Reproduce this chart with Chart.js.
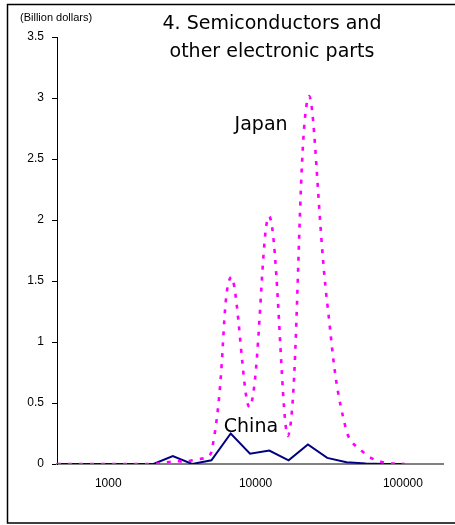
<!DOCTYPE html>
<html>
<head>
<meta charset="utf-8">
<script src="https://cdn.jsdelivr.net/npm/chart.js@4/dist/chart.umd.min.js"></script>
<style>
html,body{margin:0;padding:0;background:#fff;}
#wrap{position:relative;width:455px;height:525px;}
</style>
</head>
<body>
<div id="wrap"><canvas id="c" width="455" height="525"></canvas></div>
<script>
// Price bins (US dollars, log scale)
const binValues = [449, 607, 821, 1110, 1501, 2029, 2743, 3709, 5014, 6779, 9165, 12391, 16752, 22648, 30620, 41397, 55968, 75667, 102300];
// Billion dollars
const japanValues = [0, 0, 0, 0, 0, 0, 0.02, 0.03, 0.1, 1.53, 0.47, 2.03, 0.24, 3.0, 1.32, 0.27, 0.08, 0.01, 0];
const chinaValues = [0, 0, 0, 0, 0, 0, 0.065, 0, 0.03, 0.25, 0.085, 0.11, 0.03, 0.16, 0.05, 0.015, 0.005, 0, 0];
const xTickValues = [1000, 10000, 100000];
const yTickLabels = ['0', '0.5', '1', '1.5', '2', '2.5', '3', '3.5'];
const titleLines = ['4. Semiconductors and', 'other electronic parts'];
const unitLabel = '(Billion dollars)';
const seriesNames = ['Japan', 'China'];

const FONT = '"Liberation Sans", Arial, sans-serif';
const TFONT = '"DejaVu Sans", sans-serif';

const decorPlugin = {
  id: 'decor',
  afterDraw(chart) {
    const ctx = chart.ctx;
    const xs = chart.scales.x, ys = chart.scales.y;
    ctx.save();
    // outer frame
    ctx.strokeStyle = '#000';
    ctx.lineWidth = 1.5;
    ctx.beginPath();
    ctx.moveTo(460, 4.5); ctx.lineTo(7.5, 4.5); ctx.lineTo(7.5, 523); ctx.lineTo(460, 523);
    ctx.stroke();
    // unit label
    ctx.fillStyle = '#000';
    ctx.font = '11px ' + FONT;
    ctx.textAlign = 'left';
    ctx.textBaseline = 'middle';
    ctx.fillText(unitLabel, 20, 18);
    // title
    ctx.font = '19px ' + TFONT;
    ctx.textAlign = 'center';
    ctx.fillText(titleLines[0], 272, 24);
    ctx.fillText(titleLines[1], 272, 52);
    // series labels
    ctx.font = '19px ' + TFONT;
    ctx.fillText(seriesNames[0], xs.getPixelForValue(10900), ys.getPixelForValue(2.78));
    ctx.fillText(seriesNames[1], xs.getPixelForValue(9300), ys.getPixelForValue(0.3));
    ctx.restore();
  }
};

new Chart(document.getElementById('c'), {
  type: 'line',
  data: {
    datasets: [
      {
        label: seriesNames[0],
        data: binValues.map((x, i) => ({x: x, y: japanValues[i]})),
        borderColor: '#FF00FF',
        borderWidth: 2.6,
        borderDash: [4, 7],
        tension: 0.4,
        pointRadius: 0,
        fill: false
      },
      {
        label: seriesNames[1],
        data: binValues.map((x, i) => ({x: x, y: chinaValues[i]})),
        borderColor: '#000080',
        borderWidth: 2,
        tension: 0,
        pointRadius: 0,
        fill: false
      }
    ]
  },
  options: {
    responsive: false,
    animation: false,
    events: [],
    layout: {padding: {left: 0, top: 37, right: 12, bottom: 0}},
    plugins: {legend: {display: false}, tooltip: {enabled: false}, title: {display: false}},
    scales: {
      x: {
        type: 'logarithmic',
        min: 449,
        max: 187000,
        afterBuildTicks(scale) { scale.ticks = xTickValues.map(v => ({value: v})); },
        afterFit(scale) { scale.height = 61; },
        ticks: {
          callback: (v) => String(v),
          font: {family: FONT, size: 12},
          color: '#000',
          padding: 12,
          maxRotation: 0,
          autoSkip: false
        },
        grid: {display: false, drawTicks: false},
        border: {display: true, color: '#808080', width: 2}
      },
      y: {
        type: 'linear',
        min: 0,
        max: 3.5,
        afterBuildTicks(scale) { scale.ticks = yTickLabels.map(v => ({value: parseFloat(v)})); },
        afterFit(scale) { scale.width = 57; },
        ticks: {
          callback: (v, i) => yTickLabels[i],
          font: {family: FONT, size: 12},
          color: '#000',
          padding: 8
        },
        grid: {display: true, drawOnChartArea: false, drawTicks: true, tickLength: 5, color: '#000'},
        border: {display: true, color: '#000', width: 1}
      }
    }
  },
  plugins: [decorPlugin]
});
</script>
</body>
</html>
